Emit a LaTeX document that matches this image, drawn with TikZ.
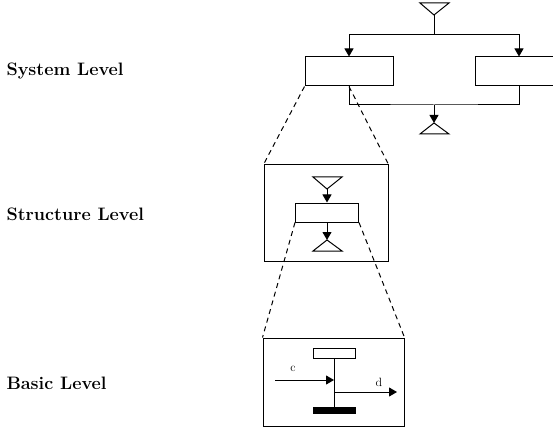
\documentclass[tikz,border=0pt]{standalone}
\usetikzlibrary{arrows.meta}
\begin{document}
\begin{tikzpicture}[x=1pt,y=-1pt,line width=1pt,
        blk/.style={draw,inner sep=0pt},
        arr/.style={-{Triangle[width=9pt,length=8pt]}},
        zoomline/.style={dash pattern=on 5pt off 4pt},
        lvl/.style={anchor=west,inner sep=0pt,font=\bfseries\fontsize{18}{20}\selectfont},
        sig/.style={inner sep=0pt,font=\fontsize{12}{14}\selectfont}]
                \useasboundingbox (0,0) rectangle (553,430);
                \clip (0,0) rectangle (553,430);
                % level names
                \node[lvl] (lsys) at (6,71) {System Level};
                \node[lvl] (lstr) at (6,214) {Structure Level};
                \node[lvl] (lbas) at (6,383) {Basic Level};
                % system level
                \coordinate (tin) at (434,15);
                \coordinate (split) at (434,35);
                \coordinate (join) at (434,105);
                \coordinate (tout) at (434,123);
                \node[blk,minimum width=88,minimum height=29] (sys1) at (349,71.5) {};
                \node[blk,minimum width=88,minimum height=29] (sys2) at (519,71.5) {};
                \draw (420,3) -- (449,3) -- (tin) -- cycle;
                \draw (tin) -- (split);
                \draw[arr] (split) -| (sys1);
                \draw[arr] (split) -| (sys2);
                \draw (sys1.south) |- (join) -| (sys2.south);
                \draw[arr] (join) -- (tout);
                \draw (tout) -- (449,134) -- (420,134) -- cycle;
                % structure level
                \node[blk,minimum width=124,minimum height=96] (strbox) at (326,213) {};
                \coordinate (sin) at (327,189);
                \coordinate (sout) at (327,240);
                \node[blk,minimum width=63,minimum height=19] (strblk) at (327,212.5) {};
                \draw (313,177) -- (342,177) -- (sin) -- cycle;
                \draw[arr] (sin) -- (strblk);
                \draw[arr] (strblk) -- (sout);
                \draw (sout) -- (342,251) -- (313,251) -- cycle;
                % basic level
                \node[blk,minimum width=141,minimum height=88] (basbox) at (333.5,382) {};
                \node[blk,minimum width=42,minimum height=10] (bcomp) at (334,353) {};
                \node[blk,fill,minimum width=42,minimum height=6] (bbar) at (334,410) {};
                \draw (bcomp) -- (bbar);
                \coordinate (cin) at (275,380);
                \coordinate (cend) at (334,380);
                \coordinate (dstart) at (334,392);
                \coordinate (dout) at (397,392);
                \draw[arr] (cin) -- (cend);
                \draw[arr] (dstart) -- (dout);
                \node[sig] (lc) at (293,369) {c};
                \node[sig] (ld) at (379,382) {d};
                % zoom lines
                \draw[zoomline] (sys1.south west) -- (strbox.north west);
                \draw[zoomline] (sys1.south) -- (strbox.north east);
                \draw[zoomline] (strblk.south west) -- (basbox.north west);
                \draw[zoomline] (strblk.south east) -- (basbox.north east);
            \end{tikzpicture}
\end{document}
